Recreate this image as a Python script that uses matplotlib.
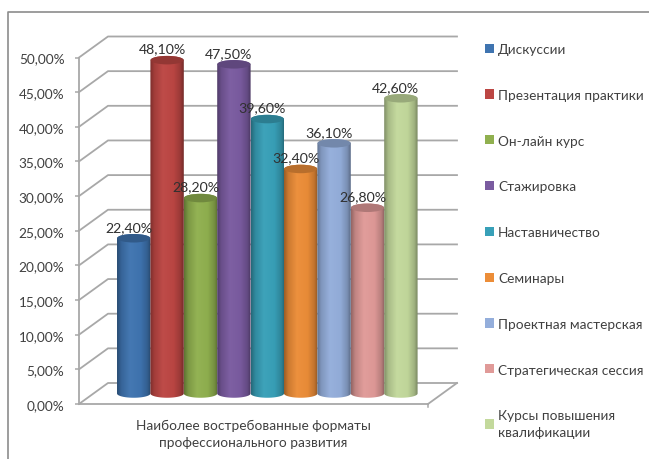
import numpy as np
import matplotlib
matplotlib.use("Agg")
import matplotlib.pyplot as plt
from matplotlib.colors import LinearSegmentedColormap, to_rgb
from matplotlib.patches import Ellipse, Patch
from matplotlib.path import Path
from matplotlib.ticker import FuncFormatter

categories = ["Дискуссии", "Презентация практики", "Он-лайн курс", "Стажировка",
              "Наставничество", "Семинары", "Проектная мастерская",
              "Стратегическая сессия", "Курсы повышения\nквалификации"]
values = [22.4, 48.1, 28.2, 47.5, 39.6, 32.4, 36.1, 26.8, 42.6]
colors = ["#3F74B0", "#BC4643", "#90B04F", "#7A5BA0", "#38A0B8",
          "#EC8D38", "#94AEDB", "#E09A98", "#C3D99C"]
axis_title = "Наиболее востребованные форматы\nпрофессионального развития"

plt.rcParams["font.family"] = ["Lato", "DejaVu Sans"]
W, H = 649, 460
TEXT = "#404040"
GRID = "#A8A8A8"
fig = plt.figure(figsize=(W / 100, H / 100), dpi=100)

# Outer frame
fig.add_artist(plt.Line2D([7.5 / W, 7.5 / W, 1], [0, 1 - 12.5 / H, 1 - 12.5 / H],
                          color="#8C8C8C", lw=1.2))

ax = fig.add_axes([79 / W, 1 - 405 / H, 349 / W, 346.5 / H])
ax.set_xlim(-1.204, 9.246)
ax.set_ylim(0, 50)
for s in ("top", "right"):
    ax.spines[s].set_visible(False)
for s in ("left", "bottom"):
    ax.spines[s].set_color(GRID)
    ax.spines[s].set_linewidth(1.3)
ax.patch.set_alpha(0)

ticks = np.arange(0, 51, 5)
ax.set_yticks(ticks)
ax.yaxis.set_major_formatter(FuncFormatter(lambda v, _: f"{v:.2f}%".replace(".", ",")))
ax.tick_params(axis="y", length=3, width=1.1, color=GRID, labelcolor=TEXT, labelsize=9.8, pad=7.5)
ax.set_xticks([])
ax.set_xlabel(axis_title, color=TEXT, fontsize=9.85, labelpad=11, linespacing=1.5)

# Depth of the 3-D box, expressed in axis units
dx = 29 / 33.4
dy = 21 / 6.93
x0, x1 = ax.get_xlim()
for t in ticks:
    ax.plot([x0, x0 + dx, x1 + dx], [t, t + dy, t + dy], color=GRID, lw=1.3, clip_on=False, zorder=1)
ax.plot([x1, x1 + dx], [0, dy], color=GRID, lw=1.3, clip_on=False, zorder=1)
ax.plot([x1, x1], [0, -0.5], color=GRID, lw=1.1, clip_on=False, zorder=1)


def shade(c, f):
    r = np.array(to_rgb(c))
    return tuple(np.clip(r * f if f <= 1 else r + (1 - r) * (f - 1), 0, 1))


EH = 8.5 / 6.93  # ellipse height
BW = 1.0
for i, (v, c) in enumerate(zip(values, colors)):
    cx = i + dx / 2
    base = dy / 2
    top = v + dy / 2
    t = np.linspace(0, np.pi, 50)
    xs = np.concatenate([cx - BW / 2 * np.cos(t), cx + BW / 2 * np.cos(t)])
    ys = np.concatenate([base - EH / 2 * np.sin(t), top + EH / 2 * np.sin(t)])
    path = Path(np.column_stack([xs, ys]))
    cmap = LinearSegmentedColormap.from_list(
        f"c{i}", [(0, shade(c, 0.66)), (0.12, shade(c, 0.86)), (0.38, shade(c, 1.03)),
                  (0.7, shade(c, 0.98)), (0.9, shade(c, 0.82)), (1, shade(c, 0.62))])
    im = ax.imshow(np.linspace(0, 1, 64)[None, :], cmap=cmap, aspect="auto",
                   extent=(cx - BW / 2, cx + BW / 2, base - EH, top + EH),
                   zorder=3 + i, interpolation="bilinear")
    im.set_clip_box(fig.bbox)
    im.set_clip_path(path, ax.transData)
    ax.add_patch(Ellipse((cx, top), BW * 0.98, EH, facecolor=shade(c, 0.78), edgecolor="none",
                         zorder=3 + i + 0.5, clip_on=False))
    ax.annotate(f"{v:.2f}%".replace(".", ","), (cx, top), xytext=(-3.6, 8.3), textcoords="offset points",
                ha="center", va="center", fontsize=10.2, color="#303030", zorder=30, annotation_clip=False)

ax.set_xlim(x0, x1)
ax.set_ylim(0, 50)

handles = [Patch(facecolor=c, edgecolor="none") for c in colors]
leg = fig.legend(handles, categories, loc="upper left", bbox_to_anchor=(485 / W, 1 - 44 / H),
                 frameon=False, fontsize=9.85, labelcolor=TEXT, handlelength=0.65, handleheight=0.65,
                 handletextpad=0.3, labelspacing=2.47, borderpad=0, borderaxespad=0, alignment="left")
leg.get_texts()[-1].set_linespacing(1.5)

fig.savefig("out.png", dpi=100, facecolor="white")
